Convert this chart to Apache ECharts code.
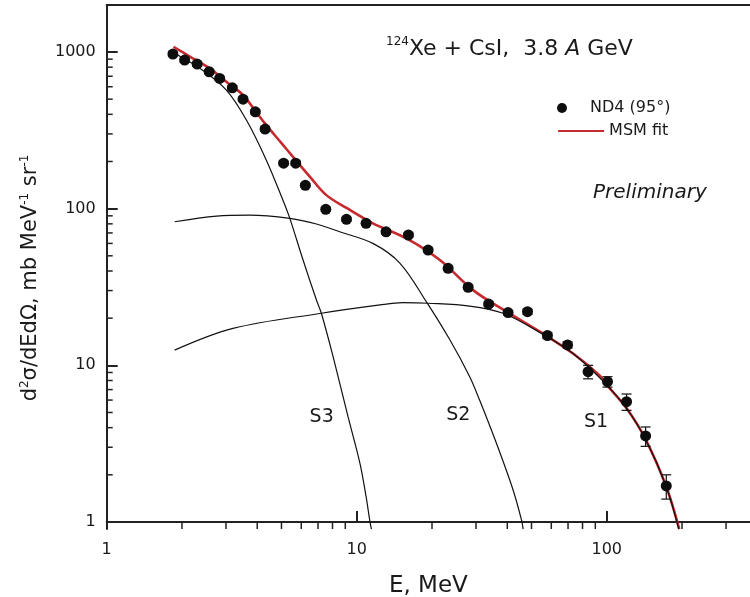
<!DOCTYPE html>
<html><head><meta charset="utf-8">
<script src="https://cdn.jsdelivr.net/npm/echarts@6/dist/echarts.min.js"></script>
<style>html,body{margin:0;padding:0;background:#fff}#c{width:750px;height:597px}</style>
</head><body><div id="c"></div>
<script>
// ---- data ----
const dataE = [1.84, 2.05, 2.30, 2.57, 2.83, 3.18, 3.51, 3.93, 4.30, 5.10, 5.70, 6.23, 7.52, 9.10, 10.9, 13.1, 16.1, 19.3, 23.2, 27.9, 33.7, 40.3, 48.2, 57.9, 69.7, 84.2, 100.7, 120, 143, 173];
const dataY = [970, 888, 837, 748, 678, 591, 500, 415, 322, 195, 195, 141, 99, 85.5, 80.6, 71.2, 67.9, 54.4, 41.6, 31.5, 24.6, 21.7, 22.0, 15.5, 13.5, 9.1, 7.86, 5.86, 3.54, 1.70];
const dataErr = [29, 27, 25, 22, 20, 18, 15, 12, 10, 6, 6, 4, 3, 2.6, 2.4, 2.1, 2.0, 1.6, 1.3, 1.0, 0.8, 0.7, 0.8, 0.6, 0.6, 0.9, 0.6, 0.7, 0.5, 0.3];

const fitE = [1.85, 2.2, 2.58, 3.0, 3.51, 4.0, 4.35, 5.0, 5.56, 6.49, 7.56, 9.1, 11.6, 15.8, 21.5, 29.2, 39.7, 54, 73.3, 93.8, 100, 120, 143, 173, 195];
const fitY = [1080, 914, 786, 649, 531, 405, 341, 262, 214, 160, 122, 101, 80.6, 64.6, 47, 30.2, 22, 16.4, 11.9, 8.6, 7.5, 5.32, 3.37, 1.68, 0.9];

const s1E = [1.87, 3.2, 7.22, 12.4, 15.3, 19.3, 28.3, 38.5, 54, 73.3, 100, 120, 143, 173, 194];
const s1Y = [12.5, 17.2, 21.5, 24.3, 25.1, 24.9, 23.9, 21.5, 16.2, 11.9, 7.5, 5.32, 3.37, 1.68, 0.9];

const s2E = [1.87, 2.75, 3.73, 5.40, 6.9, 8.55, 11.65, 14.9, 19.0, 23.6, 28.3, 31.0, 36.2, 42.2, 45.6, 46.3];
const s2Y = [82.5, 89.7, 91, 86.7, 79.8, 71.2, 59.8, 44.8, 25.4, 14.5, 8.46, 6.0, 3.18, 1.6, 1.03, 0.9];

const s3E = [1.85, 2.36, 3.01, 3.62, 4.35, 5.07, 5.40, 6.10, 6.90, 7.22, 8.04, 9.23, 10.3, 10.9, 11.3, 11.45];
const s3Y = [990, 786, 571, 368, 204, 113, 86.7, 47, 26.1, 21.5, 11.4, 4.7, 2.37, 1.45, 1.0, 0.9];

const curveLabels = ['S3', 'S2', 'S1'];
const curveLabelE = [7.24, 25.5, 90.6];
const curveLabelY = [4.7, 4.8, 4.36];

const xMajorTicks = [1, 10, 100];
const yMajorTicks = [1, 10, 100, 1000];
const xMinorTicks = [2, 3, 4, 5, 6, 7, 8, 9, 20, 30, 40, 50, 60, 70, 80, 90, 200, 300];
const yMinorTicks = [2, 3, 4, 5, 6, 7, 8, 9, 20, 30, 40, 50, 60, 70, 80, 90, 200, 300, 400, 500, 600, 700, 800, 900];
const xRange = [1, 374];
const yRange = [0.902, 1995];

const titleText = '{s|124}Xe + CsI,  3.8 {i|A} GeV';
const seriesNames = ['ND4 (95°)', 'MSM fit'];

// ---- build ----
const lg = Math.log10;
const FONT = 'DejaVu Sans';
const TXT = '#1a1a1a';
const AX = '#222';
const xMin = lg(xRange[0]), xMax = lg(xRange[1]);
const yMin = lg(yRange[0]), yMax = lg(yRange[1]);
const pairs = (E, Y) => E.map((e, i) => [lg(e), lg(Y[i])]);
const fmtPow = v => String(Math.round(Math.pow(10, v)));

function renderErr(params, api) {
  const x = api.value(0);
  const lo = api.coord([x, api.value(1)]);
  const hi = api.coord([x, api.value(2)]);
  const w = 5;
  const st = {stroke: '#111', lineWidth: 1.2};
  return {type: 'group', children: [
    {type: 'line', shape: {x1: lo[0], y1: lo[1], x2: hi[0], y2: hi[1]}, style: st},
    {type: 'line', shape: {x1: lo[0] - w, y1: lo[1], x2: lo[0] + w, y2: lo[1]}, style: st},
    {type: 'line', shape: {x1: hi[0] - w, y1: hi[1], x2: hi[0] + w, y2: hi[1]}, style: st}
  ]};
}
function renderXMinor(params, api) {
  const p = api.coord([api.value(0), api.value(1)]);
  return {type: 'line', shape: {x1: p[0], y1: p[1], x2: p[0], y2: p[1] - 6}, style: {stroke: AX, lineWidth: 1.5}};
}
function renderYMinor(params, api) {
  const p = api.coord([api.value(0), api.value(1)]);
  return {type: 'line', shape: {x1: p[0], y1: p[1], x2: p[0] + 6, y2: p[1]}, style: {stroke: AX, lineWidth: 1.5}};
}

const sLine = (E, Y) => ({
  type: 'line', data: pairs(E, Y), smooth: 0.35, symbol: 'none', silent: true, z: 4,
  lineStyle: {color: '#111', width: 1.2}
});

const option = {
  animation: false,
  backgroundColor: '#fff',
  grid: {left: 106.7, right: 0, top: 5, bottom: 68, outerBoundsMode: 'none', containLabel: false},
  title: [
    {text: titleText, left: 386, top: 36, padding: 0,
     textStyle: {fontFamily: FONT, fontSize: 22, fontWeight: 'normal', color: TXT, lineHeight: 26,
       rich: {s: {fontFamily: FONT, fontSize: 12, lineHeight: 14, verticalAlign: 'top', color: TXT},
              i: {fontFamily: FONT, fontSize: 22, lineHeight: 26, fontStyle: 'italic', color: TXT}}}},
    {text: 'Preliminary', left: 593, top: 183, padding: 0,
     textStyle: {fontFamily: FONT, fontSize: 20, fontStyle: 'italic', fontWeight: 'normal', color: TXT}}
  ],
  legend: [
    {data: [{name: seriesNames[0], icon: 'circle'}], left: 557, top: 100, padding: 0, itemWidth: 46, itemHeight: 10,
     selectedMode: false, textStyle: {fontFamily: FONT, fontSize: 16, color: TXT}},
    {data: [seriesNames[1]], left: 557, top: 123, padding: 0, itemWidth: 46, itemHeight: 10,
     itemStyle: {opacity: 0}, lineStyle: {color: '#c62a2f', width: 2.2},
     selectedMode: false, textStyle: {fontFamily: FONT, fontSize: 16, color: TXT}}
  ],
  xAxis: [
    {type: 'value', min: xMin, max: xMax, position: 'bottom',
     name: 'E, MeV', nameLocation: 'middle', nameGap: 46,
     nameTextStyle: {fontFamily: FONT, fontSize: 23, color: TXT},
     axisLine: {show: true, lineStyle: {color: AX, width: 2}},
     axisTick: {show: true, inside: true, length: 11, customValues: xMajorTicks.map(lg), lineStyle: {color: AX, width: 2}},
     axisLabel: {show: true, customValues: xMajorTicks.map(lg), formatter: fmtPow, margin: 13,
       fontFamily: FONT, fontSize: 16, color: TXT},
     splitLine: {show: false}},
    {type: 'value', min: xMin, max: xMax, position: 'top',
     axisLine: {show: true, lineStyle: {color: AX, width: 2}},
     axisTick: {show: false}, axisLabel: {show: false}, splitLine: {show: false}}
  ],
  yAxis: [
    {type: 'value', min: yMin, max: yMax, position: 'left',
     name: '{a|d}{s|2}{a|σ/dEdΩ, mb MeV}{s|-1}{a| sr}{s|-1}', nameLocation: 'middle', nameGap: 64, nameRotate: 90,
     nameTextStyle: {fontFamily: FONT, fontSize: 21, color: TXT, padding: [0, 22, 0, 0],
       rich: {a: {fontFamily: FONT, fontSize: 21, lineHeight: 24, color: TXT},
              s: {fontFamily: FONT, fontSize: 12, lineHeight: 13, verticalAlign: 'top', color: TXT}}},
     axisLine: {show: true, lineStyle: {color: AX, width: 2}},
     axisTick: {show: true, inside: true, length: 11, customValues: yMajorTicks.map(lg), lineStyle: {color: AX, width: 2}},
     axisLabel: {show: true, customValues: yMajorTicks.map(lg), formatter: fmtPow, margin: 11,
       fontFamily: FONT, fontSize: 16, color: TXT},
     splitLine: {show: false}}
  ],
  series: [
    {name: seriesNames[1], type: 'line', data: pairs(fitE, fitY), smooth: 0.35, symbol: 'none', showSymbol: false,
     silent: true, z: 3, lineStyle: {color: '#c62a2f', width: 2.6}, itemStyle: {color: '#c62a2f'}},
    sLine(s1E, s1Y), sLine(s2E, s2Y), sLine(s3E, s3Y),
    {type: 'custom', renderItem: renderErr, silent: true, z: 5, clip: false,
     encode: {x: 0, y: [1, 2]},
     data: dataE.map((e, i) => [lg(e), lg(dataY[i] - dataErr[i]), lg(dataY[i] + dataErr[i])])},
    {name: seriesNames[0], type: 'scatter', data: pairs(dataE, dataY), symbol: 'circle', symbolSize: 11, z: 6,
     itemStyle: {color: '#0d0d0d', opacity: 1}},
    {type: 'scatter', symbolSize: 0, silent: true, z: 6, itemStyle: {opacity: 1},
     data: curveLabels.map((n, i) => ({name: n, value: [lg(curveLabelE[i]), lg(curveLabelY[i])]})),
     label: {show: true, position: 'inside', formatter: p => p.name, fontFamily: FONT, fontSize: 19, color: TXT}},
    {type: 'custom', renderItem: renderXMinor, silent: true, clip: false, z: 2, encode: {x: 0, y: 1},
     data: xMinorTicks.map(v => [lg(v), yMin])},
    {type: 'custom', renderItem: renderYMinor, silent: true, clip: false, z: 2, encode: {x: 0, y: 1},
     data: yMinorTicks.map(v => [xMin, lg(v)])}
  ]
};
const chart = echarts.init(document.getElementById('c'), null, {renderer: 'canvas'});
chart.setOption(option);
</script></body></html>
